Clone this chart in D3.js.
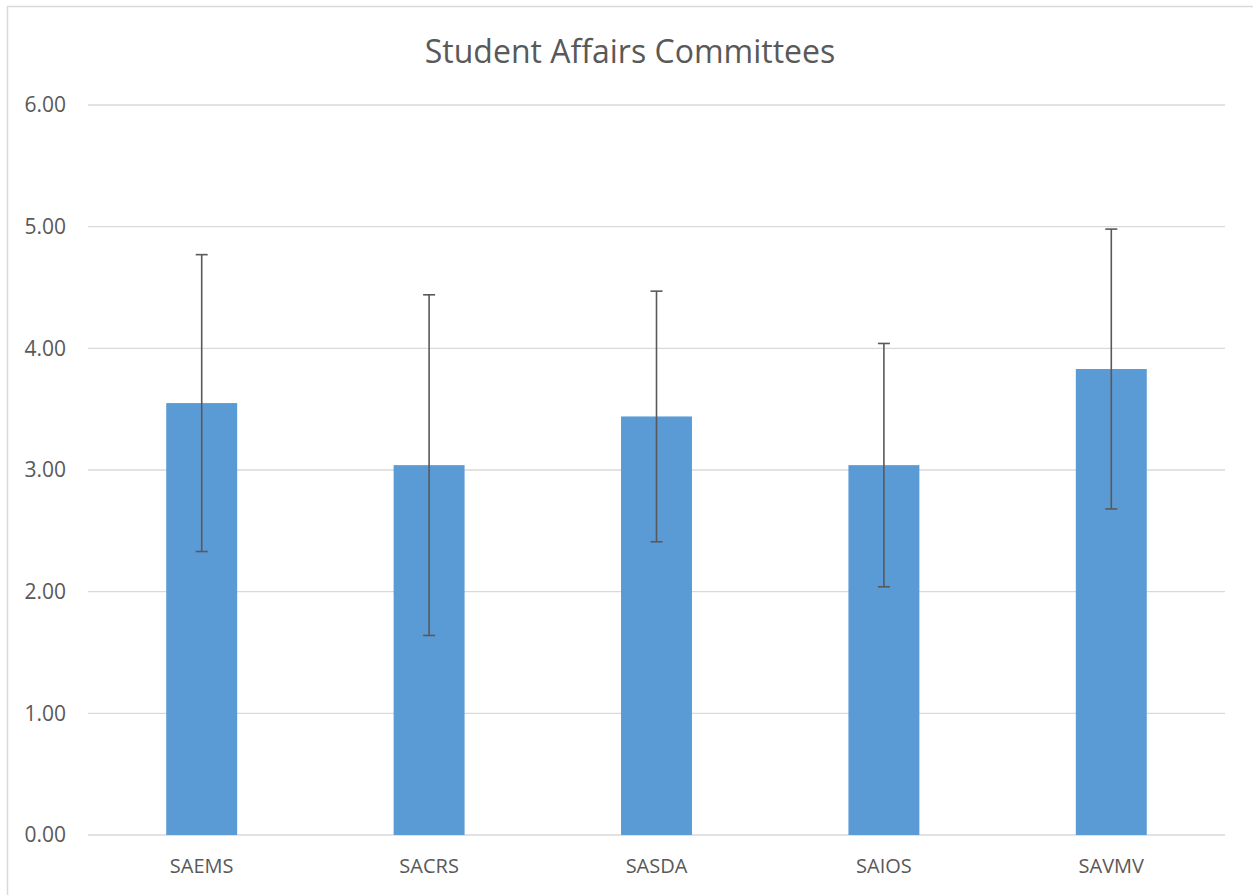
<!DOCTYPE html>
<html>
<head>
<meta charset="utf-8">
<script src="https://cdn.jsdelivr.net/npm/d3@7"></script>
<style>
  body { margin: 0; background: #fff; }
  text { font-family: "Open Sans", sans-serif; fill: #595959; }
</style>
</head>
<body>
<div id="chart"></div>
<script>
const categories = ["SAEMS", "SACRS", "SASDA", "SAIOS", "SAVMV"];
const means = [3.55, 3.04, 3.44, 3.04, 3.83];
const errors = [1.22, 1.40, 1.03, 1.00, 1.15];
const yTicks = [0, 1, 2, 3, 4, 5, 6];
const title = "Student Affairs Committees";

const width = 1253;
const height = 895;
const margin = { top: 105, right: 28, bottom: 60, left: 88 };

const svg = d3.select("#chart")
    .append("svg")
    .attr("width", width)
    .attr("height", height);

// chart area border
svg.append("rect")
    .attr("x", 7.5)
    .attr("y", 6.5)
    .attr("width", width + 10)
    .attr("height", height + 10)
    .attr("fill", "none")
    .attr("stroke", "#d9d9d9")
    .attr("stroke-width", 1.5);

svg.append("text")
    .attr("x", 630)
    .attr("y", 63)
    .attr("text-anchor", "middle")
    .style("font-size", "32px")
    .text(title);

const g = svg.append("g")
    .attr("transform", `translate(${margin.left},${margin.top})`);

const innerW = width - margin.left - margin.right;
const innerH = 835 - margin.top;

const xScale = d3.scaleBand()
    .domain(categories)
    .range([0, innerW])
    .paddingInner(0.688)
    .paddingOuter(0.344);

const yScale = d3.scaleLinear()
    .domain([0, 6])
    .range([innerH, 0]);

// gridlines
g.selectAll(".grid")
    .data(yTicks)
    .enter().append("line")
    .attr("x1", 0)
    .attr("x2", innerW)
    .attr("y1", d => yScale(d))
    .attr("y2", d => yScale(d))
    .attr("stroke", "#d9d9d9")
    .attr("stroke-width", 1.3);

// y axis labels
const yAxis = g.append("g")
    .call(d3.axisLeft(yScale).tickValues(yTicks).tickFormat(d3.format(".2f")).tickSize(0).tickPadding(22));
yAxis.select(".domain").remove();
yAxis.selectAll("text")
    .style("font-size", "21px")
    .style("font-family", "'Open Sans', sans-serif")
    .attr("fill", "#595959");

// bars
g.selectAll(".bar")
    .data(categories)
    .enter().append("rect")
    .attr("x", d => xScale(d))
    .attr("y", (d, i) => yScale(means[i]))
    .attr("width", xScale.bandwidth())
    .attr("height", (d, i) => yScale(0) - yScale(means[i]))
    .attr("fill", "#5b9bd5");

// error bars
const eb = g.selectAll(".err")
    .data(categories)
    .enter().append("g")
    .attr("transform", d => `translate(${xScale(d) + xScale.bandwidth() / 2},0)`);

eb.append("line")
    .attr("y1", (d, i) => yScale(means[i] + errors[i]))
    .attr("y2", (d, i) => yScale(means[i] - errors[i]))
    .attr("stroke", "#595959")
    .attr("stroke-width", 1.6);

eb.append("line")
    .attr("x1", -6).attr("x2", 6)
    .attr("y1", (d, i) => yScale(means[i] + errors[i]))
    .attr("y2", (d, i) => yScale(means[i] + errors[i]))
    .attr("stroke", "#595959")
    .attr("stroke-width", 1.6);

eb.append("line")
    .attr("x1", -6).attr("x2", 6)
    .attr("y1", (d, i) => yScale(means[i] - errors[i]))
    .attr("y2", (d, i) => yScale(means[i] - errors[i]))
    .attr("stroke", "#595959")
    .attr("stroke-width", 1.6);

// x axis labels
const xAxis = g.append("g")
    .attr("transform", `translate(0,${innerH})`)
    .call(d3.axisBottom(xScale).tickSize(0).tickPadding(24));
xAxis.select(".domain").remove();
xAxis.selectAll("text")
    .style("font-size", "20px")
    .style("font-family", "'Open Sans', sans-serif")
    .attr("fill", "#595959");
</script>
</body>
</html>
